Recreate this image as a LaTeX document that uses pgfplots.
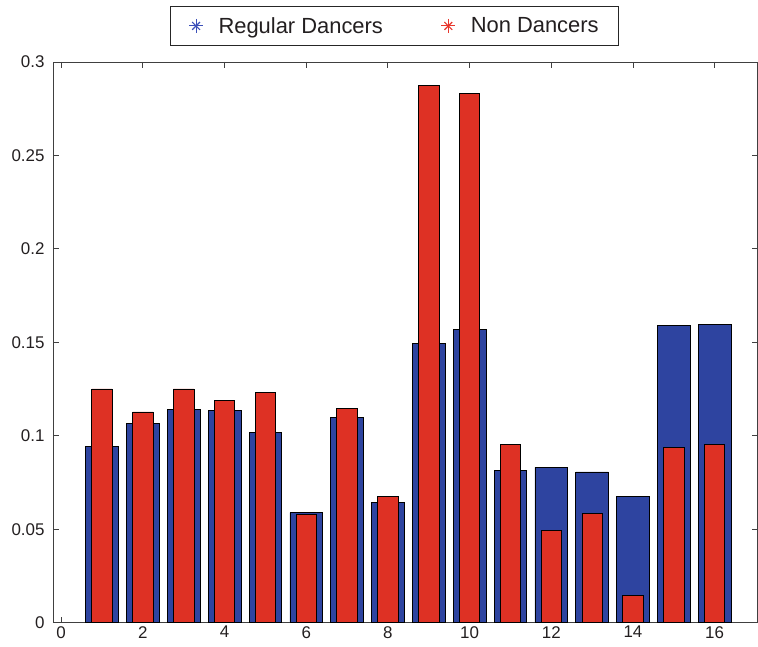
\documentclass[border=0pt]{standalone}
\usepackage{fontspec}
\setmainfont{Liberation Sans}
\usepackage{pgfplots}
\pgfplotsset{compat=1.18}
\definecolor{barblue}{RGB}{46,68,160}
\definecolor{barred}{RGB}{222,49,36}
\definecolor{legblue}{RGB}{60,80,185}
\definecolor{legred}{RGB}{232,55,45}
\definecolor{txt}{RGB}{35,31,32}
\begin{document}
\begin{tikzpicture}
\begin{axis}[
  scale only axis, width=704.5bp, height=560.7bp,
  xmin=-0.2, xmax=17.05, ymin=0, ymax=0.3,
  xtick={0,2,4,6,8,10,12,14,16},
  ytick={0,0.05,0.1,0.15,0.2,0.25,0.3},
  scaled y ticks=false,
  /pgf/number format/assume math mode=true,
  tick label style={font=\fontsize{17}{20}\selectfont, text=txt},
  yticklabel style={xshift=-5bp, /pgf/number format/.cd, fixed, precision=2},
  axis line style={black!75, line width=0.8bp},
  tick style={black!75, line width=0.8bp},
  major tick length=6bp,
  tick align=inside,
  legend style={at={(axis description cs:0.485,1)}, anchor=south, yshift=16bp,
    draw=black!85, line width=0.8bp, font=\fontsize{22}{26}\selectfont,
    text=txt, inner xsep=6bp, inner ysep=9bp,
    /tikz/every even column/.append style={column sep=44bp}},
  legend columns=2,
  legend cell align=left,
]
\addplot[ybar, bar width=0.8, bar shift=0pt, fill=barblue, draw=black, line width=0.7bp, forget plot]
coordinates {
(1,0.0945) (2,0.1066) (3,0.1143) (4,0.1137) (5,0.1018) (6,0.0589) (7,0.1097) (8,0.0644)
(9,0.1495) (10,0.1571) (11,0.0817) (12,0.0831) (13,0.0807) (14,0.0676) (15,0.1592) (16,0.1595)
};
\addplot[ybar, bar width=0.5, bar shift=0pt, fill=barred, draw=black, line width=0.7bp, forget plot]
coordinates {
(1,0.1251) (2,0.1128) (3,0.1251) (4,0.1191) (5,0.1234) (6,0.0578) (7,0.1148) (8,0.0676)
(9,0.2875) (10,0.2833) (11,0.0955) (12,0.0494) (13,0.0585) (14,0.0147) (15,0.0940) (16,0.0954)
};
\addlegendimage{legend image code/.code={\path (-19bp,0) (20bp,0);
  \draw[legblue, line width=1.1bp] plot[mark=+, mark size=7bp] coordinates {(0,0)};
  \draw[legblue, line width=1.1bp] plot[mark=x, mark size=5.5bp] coordinates {(0,0)};}}
\addlegendentry{Regular Dancers}
\addlegendimage{legend image code/.code={\path (-19bp,0) (20bp,0);
  \draw[legred, line width=1.1bp] plot[mark=+, mark size=7bp] coordinates {(0,0)};
  \draw[legred, line width=1.1bp] plot[mark=x, mark size=5.5bp] coordinates {(0,0)};}}
\addlegendentry{Non Dancers\rule{12bp}{0pt}}
\end{axis}
\pgfresetboundingbox
\path[use as bounding box] ([xshift=-53bp,yshift=-24bp]current axis.south west) rectangle ([xshift=0.5bp,yshift=62bp]current axis.north east);
\end{tikzpicture}
\end{document}
